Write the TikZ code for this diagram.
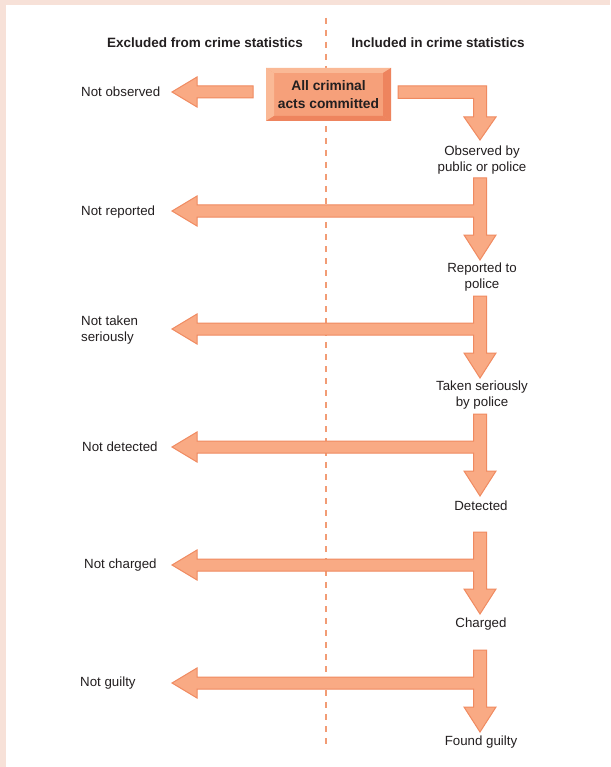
\documentclass[tikz,border=0pt]{standalone}
\usepackage{fontspec}
\setmainfont{Liberation Sans}
\usepackage{tikz}
\usetikzlibrary{calc}
\definecolor{crframe}{HTML}{F7E1D8}
\definecolor{crfill}{HTML}{F9AA84}
\definecolor{credge}{HTML}{F08A60}
\definecolor{crface}{HTML}{F6A07A}
\definecolor{crlight}{HTML}{FAB996}
\definecolor{crdark}{HTML}{EE845E}
\definecolor{crdash}{HTML}{F29C75}
\definecolor{crtext}{HTML}{231F20}
\tikzset{
  crhead/.style={font=\fontsize{13.5}{16}\selectfont\bfseries, text=crtext, inner sep=0pt},
  crlabel/.style={font=\fontsize{13.3}{16}\selectfont, text=crtext, align=center, inner sep=0pt},
  crout/.style={font=\fontsize{13.3}{16}\selectfont, text=crtext, align=left, anchor=west, inner sep=0pt},
  crbox/.style={fill=crface, minimum width=125pt, minimum height=53pt, inner sep=0pt,
    align=center, text=crtext, font=\fontsize{13.8}{18}\selectfont\bfseries,
    path picture={
      \fill[crlight] (path picture bounding box.north west) -- (path picture bounding box.north east)
        -- ++(-8,5) -- ($(path picture bounding box.north west)+(8,5)$) -- cycle;
      \fill[crlight] (path picture bounding box.north west) -- ($(path picture bounding box.north west)+(8,5)$)
        -- ($(path picture bounding box.south west)+(8,-5)$) -- (path picture bounding box.south west) -- cycle;
      \fill[crdark] (path picture bounding box.south west) -- (path picture bounding box.south east)
        -- ++(-8,-5) -- ($(path picture bounding box.south west)+(8,-5)$) -- cycle;
      \fill[crdark] (path picture bounding box.north east) -- ($(path picture bounding box.north east)+(-8,5)$)
        -- ($(path picture bounding box.south east)+(-8,-5)$) -- (path picture bounding box.south east) -- cycle;
    }},
  crarrow/.style={fill=crfill, draw=credge, line width=1pt, line join=miter},
  crdashed/.style={draw=crdash, line width=1.6pt, dash pattern=on 6pt off 6pt},
  stagearrow/.pic={
    \path[crarrow] (-6.5,0) -- (6.5,0) -- (6.5,57) -- (16,57) -- (0,82) -- (-16,57)
      -- (-6.5,57) -- (-6.5,39) -- (-283,39) -- (-283,48) -- (-308,33) -- (-283,18)
      -- (-283,27) -- (-6.5,27) -- cycle;
  },
}
\begin{document}
\begin{tikzpicture}[x=1pt,y=-1pt]
  \useasboundingbox (0,0) rectangle (610,767);
  \fill[white] (0,0) rectangle (610,767);
  \fill[crframe] (0,0) rectangle (610,5);
  \fill[crframe] (0,0) rectangle (6,767);

  \draw[crdashed] (326,18) -- (326,745);

  \node[crhead] (excl) at (205,43) {Excluded from crime statistics};
  \node[crhead] (incl) at (438,43) {Included in crime statistics};

  \node[crbox] (all) at (328.5,94.5) {All criminal\\acts committed};

  \path[crarrow] (253,86) -- (197,86) -- (197,77) -- (172,92) -- (197,107) -- (197,98) -- (253,98) -- cycle;
  \path[crarrow] (398,86) -- (486.5,86) -- (486.5,117) -- (496,117) -- (480,140) -- (464,117)
    -- (473.5,117) -- (473.5,98.5) -- (398,98.5) -- cycle;

  \pic at (480,178) {stagearrow};
  \pic at (480,296) {stagearrow};
  \pic at (480,414) {stagearrow};
  \pic at (480,532) {stagearrow};
  \pic at (480,650) {stagearrow};

  \node[crout] (notobs) at (81,92) {Not observed};
  \node[crout] (notrep) at (81,212) {Not reported};
  \node[crout] (notser) at (81,330) {Not taken\\seriously};
  \node[crout] (notdet) at (82,447) {Not detected};
  \node[crout] (notchg) at (84,565) {Not charged};
  \node[crout] (notgly) at (80,683) {Not guilty};

  \node[crlabel] (obs) at (482,160) {Observed by\\public or police};
  \node[crlabel] (rep) at (482,277) {Reported to\\police};
  \node[crlabel] (ser) at (482,395) {Taken seriously\\by police};
  \node[crlabel] (det) at (481,506) {Detected};
  \node[crlabel] (chg) at (481,624) {Charged};
  \node[crlabel] (gly) at (481,742) {Found guilty};
\end{tikzpicture}
\end{document}
